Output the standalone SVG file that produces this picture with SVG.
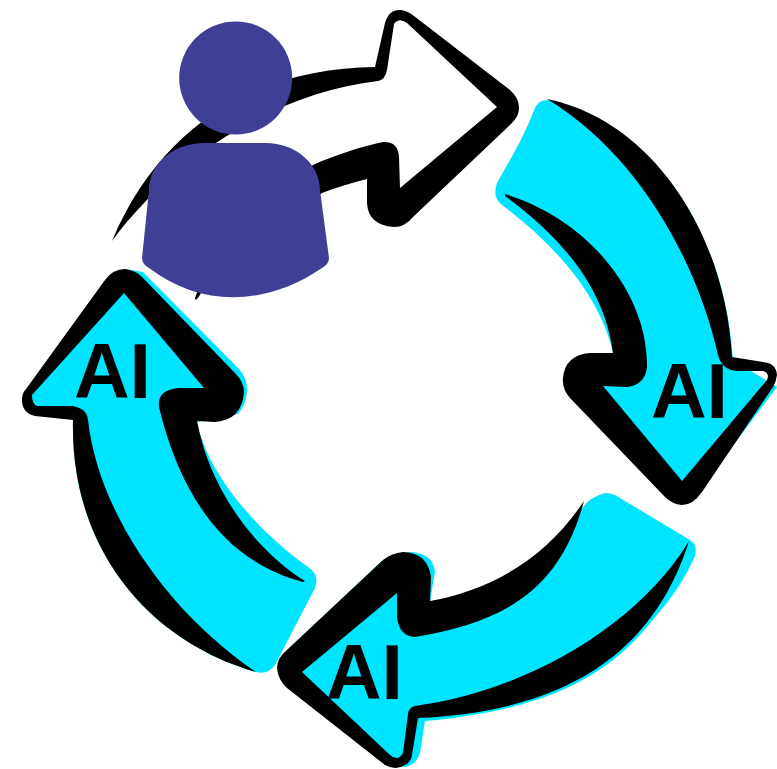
<svg xmlns="http://www.w3.org/2000/svg" width="777" height="769" viewBox="0 0 777 769">
<style>
.c{fill:#00e5ff}
.k{fill:#000;fill-rule:evenodd}
.p{fill:#3f4095}
.t{font-family:"Liberation Sans",Arial,sans-serif;font-weight:700;font-size:77px;fill:#000}
</style>
<g id="connectors"></g>
<g id="arrow-top">
<path class="k" d="M112 241C165 115 270 68 375 67L385 23Q389 9 401 10Q408 11 414 16L510 90Q519 98 519 108Q519 116 512 123L413 217Q405 227 394 227Q368 225 367 203L367 179C350 183 335 188 322 193L215 270L198 298Q195 301 195 298L205 270L313 165C335 155 360 147 383 142Q398 141 399 157L400 188L497 107L407 23Q399 17 394 24L387 70Q385 80 378 81C280 92 175 155 112 241Z"/>
</g>
<g id="arrow-right">
<path class="c" d="M547 100Q538 100 534 110C525 135 510 160 497 183Q492 198 502 205C555 245 600 295 613 353L590 353L563 380L682 505L720 463L777 387L733 360C725 230 650 120 547 100Z"/>
<path class="k" d="M547 99C650 120 725 230 732 357L763 362Q776 363 777 375Q776 382 773 387L702 492Q693 505 682 505Q672 504 665 497L570 398Q562 389 563 378Q565 355 590 353L613 353C605 290 565 240 505 196L505 194C590 220 648 295 647 367Q645 385 627 387L603 386L682 481L767 380Q770 373 763 371L737 371Q722 370 718 355C698 265 640 155 547 99Z"/>
<text class="t" x="651" y="418">AI</text>
</g>
<g id="arrow-bottom">
<path class="c" d="M605 493Q611 493 615 495L690 540Q698 545 695 556C680 590 660 612 640 635C590 690 520 712 425 721L420 753Q416 765 405 767L385 765L277 668L287 650L383 560L410 552Q433 553 435 572L430 602C490 590 540 565 583 507Q590 497 605 493Z"/>
<path class="k" d="M584 501C545 560 490 590 430 601L431 577Q428 553 403 552Q392 553 383 560L287 650Q277 658 277 668Q278 680 287 688L385 765Q396 771 405 765Q411 762 412 755L418 718C550 712 650 665 689 541C635 630 520 692 415 706Q409 707 408 714L403 753Q398 762 390 755L302 672L397 593L397 617Q399 636 415 637C505 622 560 590 584 501Z"/>
<text class="t" x="326" y="699">AI</text>
</g>
<g id="arrow-left">
<path class="c" d="M125 269L143 272L238 368Q248 378 247 392Q246 405 238 414L197 422C207 470 250 525 308 567Q320 575 315 588L275 665Q268 675 256 672C145 640 70 545 73 420L37 410L30 395L100 300Z"/>
<path class="k" d="M256 672C145 640 70 545 73 420L35 416Q22 413 22 400Q22 393 26 389L105 280Q113 269 125 269Q135 270 142 277L235 373Q244 382 244 392Q242 420 215 422L197 421C210 490 255 550 305 581L303 582C225 562 180 495 159 407Q157 390 178 388L204 388L124 293L32 395Q32 404 37 406L72 406Q87 408 88 420C98 510 165 610 256 672Z"/>
<text class="t" x="74" y="398">AI</text>
</g>
<g id="person">
<circle class="p" cx="235.700" cy="78" r="56.500"/>
<path class="p" d="M205 143H265C297 143 320 165 320 190L329 258Q329 264 322 268C265 307 200 307 149 268Q142 264 142 258L149 190C149 165 172 143 205 143Z"/>
</g>
</svg>
